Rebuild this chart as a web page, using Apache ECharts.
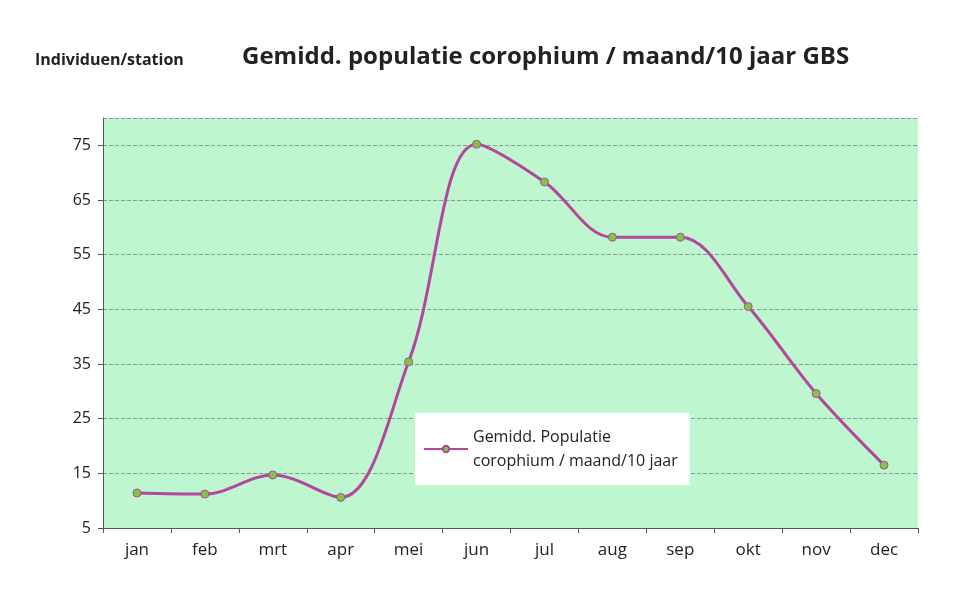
<!DOCTYPE html>
<html><head><meta charset="utf-8">
<script src="https://cdn.jsdelivr.net/npm/echarts@6/dist/echarts.min.js"></script>
<style>html,body{margin:0;background:#fff}#c{width:960px;height:613px}</style>
</head><body><div id="c"></div>
<script>
var months = ['jan','feb','mrt','apr','mei','jun','jul','aug','sep','okt','nov','dec'];
var population = [11.4, 11.2, 14.7, 10.6, 35.4, 75.2, 68.3, 58.2, 58.2, 45.5, 29.6, 16.5];
var seriesName = 'Gemidd. Populatie\ncorophium / maand/10 jaar';

var myChart = echarts.init(document.getElementById('c'));
myChart.setOption({
    textStyle: {fontFamily: 'Open Sans'},
    title: [
        {text: 'Individuen/station', left: 30, top: 47, textStyle: {fontSize: 16, fontWeight: 'bold', color: '#222'}},
        {text: 'Gemidd. populatie corophium / maand/10 jaar GBS', left: 237, top: 40, textStyle: {fontSize: 24, fontWeight: 'bold', color: '#222'}}
    ],
    legend: {
        data: [seriesName],
        left: 415, top: 413,
        padding: [12, 12, 12, 8],
        backgroundColor: '#fff',
        itemWidth: 44, itemHeight: 8,
        textStyle: {fontSize: 16, color: '#222', lineHeight: 24}
    },
    grid: {left: 103, right: 42, top: 118, bottom: 85, show: true, backgroundColor: '#bdf6cf', borderWidth: 0},
    xAxis: {
        type: 'category',
        data: months,
        axisLine: {lineStyle: {color: '#555'}},
        axisTick: {show: true, lineStyle: {color: '#555'}},
        axisLabel: {fontSize: 17, color: '#222', margin: 14}
    },
    yAxis: {
        type: 'value', min: 5, max: 80, interval: 10,
        axisLine: {show: true, lineStyle: {color: '#555'}},
        axisTick: {show: true},
        axisLabel: {fontSize: 16, color: '#222', showMaxLabel: false, margin: 12},
        splitLine: {lineStyle: {type: 'dashed', color: '#8a9a8e'}}
    },
    series: [{
        name: seriesName,
        type: 'line',
        smooth: 0.35,
        data: population,
        symbol: 'circle', symbolSize: 8,
        lineStyle: {color: '#b4479b', width: 3},
        itemStyle: {color: '#7cc843', borderColor: '#b4479b', borderWidth: 1}
    }]
});
</script></body></html>
